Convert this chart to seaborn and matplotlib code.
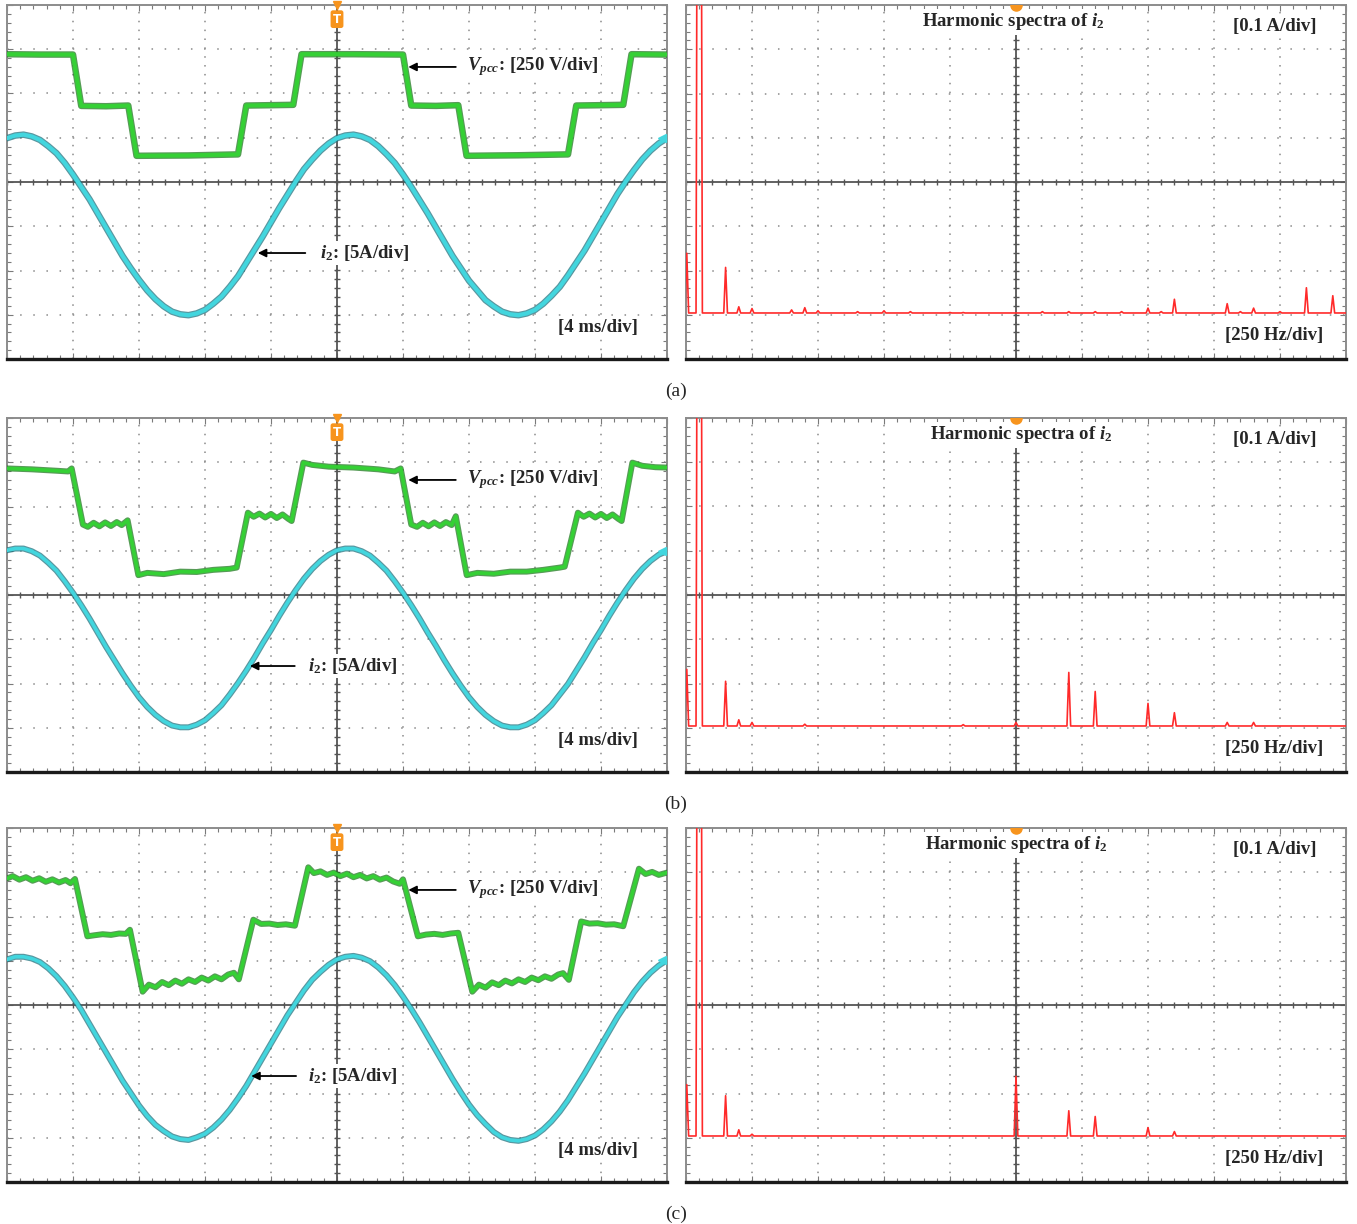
import numpy as np
import matplotlib
matplotlib.use("Agg")
import matplotlib.pyplot as plt
import matplotlib.patheffects as pe
from matplotlib.ticker import MultipleLocator
import seaborn as sns

# -----------------------------
# DATA (read off the scope screens)
# -----------------------------
# time base: 4 ms/div, 10 div -> 0..40 ms, i2 read every 0.5 ms
T_I2 = [k * 0.5 for k in range(81)]

# i2 in A (5 A/div)
I2_A = [9.8, 10.1, 10.2, 10.0, 9.6, 8.9, 8.1, 7.0, 5.7, 4.3, 2.9, 1.3, -0.3, -1.9, -3.5, -4.9,
        -6.2, -7.4, -8.4, -9.2, -9.8, -10.1, -10.2, -10.0, -9.6, -8.9, -8.1, -7.0, -5.8, -4.3,
        -2.8, -1.3, 0.3, 1.9, 3.4, 4.9, 6.3, 7.4, 8.4, 9.2, 9.8, 10.1, 10.2, 10.0, 9.6, 8.9,
        8.0, 7.0, 5.7, 4.3, 2.8, 1.3, -0.3, -1.9, -3.5, -4.9, -6.3, -7.4, -8.5, -9.2, -9.8,
        -10.1, -10.2, -10.0, -9.6, -8.9, -8.0, -7.0, -5.7, -4.3, -2.9, -1.3, 0.3, 1.9, 3.5,
        4.9, 6.2, 7.4, 8.4, 9.2, 9.8]
I2_B = [9.9, 10.1, 10.1, 9.8, 9.3, 8.5, 7.6, 6.4, 5.1, 3.7, 2.2, 0.6, -1.0, -2.5, -4.0, -5.4,
        -6.7, -7.8, -8.7, -9.4, -9.9, -10.1, -10.1, -9.8, -9.3, -8.5, -7.6, -6.4, -5.1, -3.7,
        -2.2, -0.6, 0.9, 2.5, 4.0, 5.4, 6.7, 7.8, 8.7, 9.4, 9.9, 10.1, 10.1, 9.8, 9.3, 8.5,
        7.6, 6.4, 5.1, 3.7, 2.2, 0.6, -0.9, -2.5, -4.0, -5.4, -6.7, -7.8, -8.7, -9.4, -9.9,
        -10.1, -10.1, -9.8, -9.3, -8.5, -7.6, -6.4, -5.2, -3.7, -2.2, -0.6, 0.9, 2.5, 4.0,
        5.4, 6.7, 7.8, 8.7, 9.4, 9.8]
I2_C = [10.0, 10.3, 10.3, 10.1, 9.7, 9.0, 8.1, 7.0, 5.7, 4.3, 2.7, 1.1, -0.5, -2.1, -3.7, -5.1,
        -6.5, -7.7, -8.7, -9.4, -10.0, -10.3, -10.4, -10.1, -9.7, -9.0, -8.1, -7.0, -5.7, -4.3,
        -2.7, -1.1, 0.5, 2.1, 3.7, 5.1, 6.5, 7.7, 8.6, 9.4, 10.0, 10.3, 10.4, 10.2, 9.8, 9.1,
        8.2, 7.1, 5.8, 4.4, 2.9, 1.3, -0.3, -1.9, -3.5, -5.0, -6.4, -7.6, -8.6, -9.5, -10.1,
        -10.4, -10.5, -10.3, -9.9, -9.2, -8.3, -7.2, -5.9, -4.4, -2.9, -1.3, 0.3, 1.9, 3.5,
        4.9, 6.3, 7.5, 8.5, 9.3, 9.9]

# Vpcc in V (250 V/div), corner points of the stepped waveform
VPCC_A_T = [0, 2.0, 4.0, 4.5, 6.0, 7.35, 7.85, 11.0, 14.0, 14.5, 16.0, 17.35, 17.85, 21.0, 24.0,
            24.5, 26.0, 27.35, 27.85, 31.0, 34.0, 34.5, 36.0, 37.35, 37.85, 40.0]
VPCC_A_V = [292, 290, 290, 0, -2, 2, -282, -280, -274, 2, 4, 6, 292, 292, 290,
            2, 0, 4, -282, -279, -274, 2, 4, 6, 292, 290]

VPCC_B_T = [0, 1.5, 3.0, 3.7, 3.92, 4.6, 4.9, 5.25, 5.6, 5.95, 6.3, 6.65, 6.95, 7.31, 7.96,
            8.5, 9.5, 10.5, 11.5, 12.5, 13.5, 13.92, 14.6, 14.95, 15.3, 15.65, 16.0, 16.35, 16.7,
            17.05, 17.25, 17.96, 18.5, 19.5, 21.0, 22.5, 23.5, 23.86, 24.5, 24.85, 25.2, 25.55,
            25.9, 26.25, 26.6, 26.95, 27.2, 27.86, 28.5, 29.5, 30.5, 31.5, 32.5, 33.5, 33.8, 34.6,
            34.95, 35.3, 35.65, 36.0, 36.35, 36.7, 37.05, 37.25, 37.9, 38.5, 39.3, 40.0]
VPCC_B_V = [285, 280, 272, 268, 285, -32, -45, -22, -42, -20, -40, -18, -35, -8, -318,
            -305, -312, -298, -300, -288, -282, -275, 35, 12, 30, 8, 28, 5, 25,
            0, -12, 318, 305, 295, 290, 280, 268, 285, -32, -45, -22, -42,
            -20, -40, -18, -35, 15, -318, -305, -310, -298, -298, -288, -275, -270, 35,
            12, 30, 8, 28, 5, 25, 0, -12, 318, 300, 292, 290]

VPCC_C_T = [0, 0.35, 0.75, 1.15, 1.55, 1.95, 2.35, 2.75, 3.15, 3.55, 3.85, 4.12, 4.87, 5.3, 5.8,
            6.3, 6.8, 7.2, 7.45, 8.22, 8.6, 9.0, 9.4, 9.8, 10.2, 10.6, 11.0, 11.4, 11.8, 12.2,
            12.6, 13.0, 13.4, 13.75, 14.05, 14.93, 15.4, 15.9, 16.4, 16.9, 17.45, 18.26, 18.6,
            19.0, 19.4, 19.8, 20.2, 20.6, 21.0, 21.4, 21.8, 22.2, 22.6, 23.0, 23.4, 23.8, 24.0,
            24.9, 25.4, 25.9, 26.4, 26.9, 27.35, 28.2, 28.6, 29.0, 29.4, 29.8, 30.2, 30.6, 31.0,
            31.4, 31.8, 32.2, 32.6, 33.0, 33.4, 33.7, 34.05, 34.8, 35.3, 35.8, 36.3, 36.8, 37.35,
            38.3, 38.7, 39.1, 39.5, 40.0]
VPCC_C_V = [285, 298, 278, 292, 272, 286, 266, 280, 262, 276, 258, 282, -42, -36, -30,
            -34, -26, -28, -5, -355, -315, -330, -300, -318, -292, -310, -285, -300, -275, -292,
            -268, -285, -258, -248, -285, 52, 28, 30, 22, 26, 18, 348, 315,
            325, 305, 318, 298, 312, 292, 305, 285, 298, 278, 290, 268, 255, 280,
            -42, -32, -28, -34, -26, -22, -355, -315, -332, -302, -318, -292, -308, -285,
            -300, -275, -290, -268, -282, -258, -250, -288, 42, 30, 32, 24, 26, 15,
            340, 310, 322, 305, 318]

# harmonic spectra of i2: frequency (Hz, 250 Hz/div) and amplitude (A, 0.1 A/div)
SPEC_A_F = [3, 50, 150, 200, 250, 400, 450, 500, 650, 750, 850, 1000, 1050, 1350, 1450, 1550,
            1650, 1750, 1800, 1850, 2050, 2100, 2150, 2250, 2350, 2450]
SPEC_A_A = [0.139, 3.0, 0.107, 0.018, 0.014, 0.011, 0.016, 0.009, 0.007, 0.009, 0.007, 0.005,
            0.005, 0.007, 0.007, 0.007, 0.007, 0.015, 0.007, 0.035, 0.025, 0.007, 0.015, 0.007,
            0.061, 0.043]
SPEC_B_F = [3, 50, 150, 200, 250, 450, 1050, 1250, 1450, 1550, 1750, 1850, 2050, 2150]
SPEC_B_A = [0.132, 3.0, 0.105, 0.018, 0.012, 0.008, 0.007, 0.012, 0.125, 0.082, 0.055, 0.034,
            0.012, 0.012]
SPEC_C_F = [3, 50, 150, 200, 250, 1250, 1450, 1550, 1750, 1850]
SPEC_C_A = [0.120, 3.0, 0.095, 0.018, 0.008, 0.139, 0.061, 0.048, 0.023, 0.014]
NOISE_FLOOR = 0.004

PANEL_LABELS = ["(a)", "(b)", "(c)"]

# scope channel settings (div offsets on screen)
VPCC_PER_DIV = 250.0
I2_PER_DIV = 5.0
VPCC_OFFSET = 1.72
I2_OFFSET = -0.97

# -----------------------------
# STYLE
# -----------------------------
sns.set_style("white")
plt.rcParams.update({
    "font.family": ["Liberation Serif", "DejaVu Serif"],
    "mathtext.fontset": "custom",
    "mathtext.rm": "Liberation Serif:bold",
    "mathtext.it": "Liberation Serif:italic:bold",
    "mathtext.bf": "Liberation Serif:bold",
})

ORANGE = "#f7941d"
GREEN, GREEN_EDGE = "#35d035", "#1f7a1f"
CYAN, CYAN_EDGE = "#42d6de", "#227480"
RED = "#ff2a2a"
WHITE_BOX = dict(boxstyle="square,pad=0.12", fc="white", ec="none")


def scope_frame(ax, xmax, xdiv, ylo, yhi, ydiv):
    ax.set_xlim(0, xmax)
    ax.set_ylim(ylo, yhi)
    ax.xaxis.set_major_locator(MultipleLocator(xdiv))
    ax.xaxis.set_minor_locator(MultipleLocator(xdiv / 5))
    ax.yaxis.set_major_locator(MultipleLocator(ydiv))
    ax.yaxis.set_minor_locator(MultipleLocator(ydiv / 5))
    ax.xaxis.grid(True, which="major", color="#8a8a8a", lw=1.1, linestyle=(0, (1, 4.8)))
    ax.yaxis.grid(True, which="major", color="#8a8a8a", lw=1.1, linestyle=(0, (1, 7.6)))
    ax.tick_params(which="both", direction="in", top=True, right=True, bottom=True, left=True,
                   labelbottom=False, labelleft=False, color="#7a7a7a", width=0.8)
    ax.tick_params(which="major", length=4)
    ax.tick_params(which="minor", length=3)
    for s in ["left", "top", "right"]:
        ax.spines[s].set_color("#8c8c8c")
        ax.spines[s].set_linewidth(1.4)
    ax.spines["bottom"].set_color("#1a1a1a")
    ax.spines["bottom"].set_linewidth(2.4)
    # solid centre graticule with small ticks
    cx, cy = xmax / 2, (ylo + yhi) / 2
    ax.axvline(cx, color="#555555", lw=1.3, zorder=1)
    ax.axhline(cy, color="#555555", lw=1.3, zorder=1)
    xs = np.arange(0, xmax + 1e-9, xdiv / 5)
    ys = np.arange(ylo, yhi + 1e-9, ydiv / 5)
    ax.plot(xs, np.full_like(xs, cy), ls="none", marker="|", ms=5, mew=1, color="#555555")
    ax.plot(np.full_like(ys, cx), ys, ls="none", marker="_", ms=5, mew=1, color="#555555")
    ax.set_xlabel("")
    ax.set_ylabel("")


def trace(ax, x, y, core, edge, lw):
    sns.lineplot(x=x, y=y, ax=ax, sort=False, estimator=None, color=core, lw=lw, legend=False,
                 solid_joinstyle="round",
                 path_effects=[pe.Stroke(linewidth=lw + 1.7, foreground=edge, alpha=0.75), pe.Normal()],
                 zorder=3)


def spike_line(freqs, amps):
    xs, ys = [-10], [NOISE_FLOOR]
    for f, a in zip(freqs, amps):
        half = 12 if a > 1 else 7
        xs += [f - half, f, f + half]
        ys += [NOISE_FLOOR, a, NOISE_FLOOR]
    xs.append(2510)
    ys.append(NOISE_FLOOR)
    return np.array(xs), np.array(ys)


fig = plt.figure(figsize=(13.57, 12.24), dpi=100)
W = 660 / 1357
H = 354 / 1224
row_tops = [5, 418, 828]

panels = [
    (I2_A, VPCC_A_T, VPCC_A_V, SPEC_A_F, SPEC_A_A, 3.0, 0.380, 0.452, 0.474),
    (I2_B, VPCC_B_T, VPCC_B_V, SPEC_B_F, SPEC_B_A, 2.6, 0.368, 0.436, 0.456),
    (I2_C, VPCC_C_T, VPCC_C_V, SPEC_C_F, SPEC_C_A, 2.6, 0.370, 0.438, 0.456),
]
hs_x = [0.358, 0.370, 0.362]

for k, (i2, vt, vv, sf, sa, lw, i2_tip, i2_tail, i2_txt) in enumerate(panels):
    bottom = 1 - (row_tops[k] + 354) / 1224

    # ---- time-domain screen ----
    ax = fig.add_axes([7 / 1357, bottom, W, H])
    trace(ax, np.array(vt), np.array(vv) / VPCC_PER_DIV + VPCC_OFFSET, GREEN, GREEN_EDGE, lw)
    trace(ax, np.array(T_I2), np.array(i2) / I2_PER_DIV + I2_OFFSET, CYAN, CYAN_EDGE, lw)
    scope_frame(ax, 40, 4, -4, 4, 1)
    ax.plot([39.7], [i2[-1] / I2_PER_DIV + I2_OFFSET], marker="<", ms=6, color=CYAN, clip_on=False, zorder=5)

    # trigger marker
    ax.plot([0.5], [1.0], transform=ax.transAxes, marker="v", ms=6, color=ORANGE, clip_on=False, zorder=6)
    ax.text(0.5, 0.96, "T", transform=ax.transAxes, ha="center", va="center", color="white",
            fontsize=8.5, fontweight="bold", family="DejaVu Sans", zorder=6,
            bbox=dict(boxstyle="round,pad=0.2", fc=ORANGE, ec="none"))

    ax.annotate("", xy=(0.608, 0.825), xycoords="axes fraction", xytext=(0.680, 0.825),
                textcoords="axes fraction",
                arrowprops=dict(arrowstyle="-|>", color="black", lw=1.3, mutation_scale=12,
                                shrinkA=0, shrinkB=0))
    ax.text(0.697, 0.825, r"$V_{pcc}$: [250 V/div]", transform=ax.transAxes, ha="left",
            va="center", fontsize=13.5, fontweight="bold", bbox=WHITE_BOX, zorder=4)
    ax.annotate("", xy=(i2_tip, 0.2994), xycoords="axes fraction", xytext=(i2_tail, 0.2994),
                textcoords="axes fraction",
                arrowprops=dict(arrowstyle="-|>", color="black", lw=1.3, mutation_scale=12,
                                shrinkA=0, shrinkB=0))
    ax.text(i2_txt, 0.2994, r"$i_2$: [5A/div]", transform=ax.transAxes, ha="left",
            va="center", fontsize=13.5, fontweight="bold", bbox=WHITE_BOX, zorder=4)
    ax.text(0.956, 0.09, "[4 ms/div]", transform=ax.transAxes, ha="right", va="center",
            fontsize=13.5, fontweight="bold", bbox=WHITE_BOX, zorder=4)

    # ---- spectrum screen ----
    ax2 = fig.add_axes([686 / 1357, bottom, W, H])
    fx, fy = spike_line(sf, sa)
    sns.lineplot(x=fx, y=fy, ax=ax2, sort=False, estimator=None, color=RED, lw=1.2,
                 legend=False, zorder=3)
    scope_frame(ax2, 2500, 250, -0.1, 0.7, 0.1)
    ax2.plot([0.5], [1.0], transform=ax2.transAxes, marker="o", ms=8, color=ORANGE, zorder=6)

    ax2.text(hs_x[k], 0.952, r"Harmonic spectra of $i_2$", transform=ax2.transAxes, ha="left",
             va="center", fontsize=13.5, fontweight="bold", bbox=WHITE_BOX, zorder=4)
    ax2.text(0.956, 0.940, "[0.1 A/div]", transform=ax2.transAxes, ha="right", va="center",
             fontsize=13.5, fontweight="bold", bbox=WHITE_BOX, zorder=4)
    ax2.text(0.966, 0.066, "[250 Hz/div]", transform=ax2.transAxes, ha="right", va="center",
             fontsize=13.5, fontweight="bold", bbox=WHITE_BOX, zorder=4)

    fig.text(676 / 1357, 1 - (row_tops[k] + 386) / 1224, PANEL_LABELS[k], ha="center",
             va="center", fontsize=14)

fig.savefig("out.png", dpi=100)
plt.close(fig)
